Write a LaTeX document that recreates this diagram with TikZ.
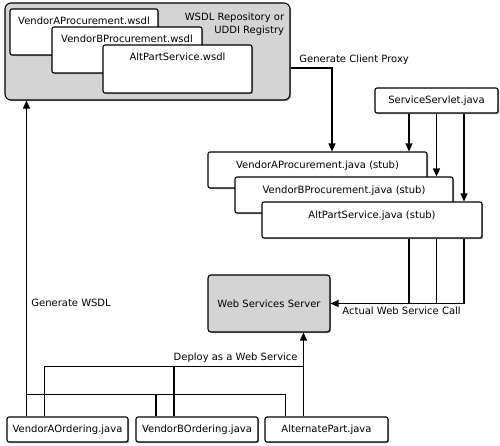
\documentclass[tikz,border=0pt]{standalone}
\usepackage{fontspec}
\setmainfont{DejaVu Sans}
\usetikzlibrary{arrows.meta,shadows}

\tikzset{
  box/.style={draw, fill=white, rounded corners=2pt, inner xsep=2pt,
    drop shadow={shadow xshift=1.2pt, shadow yshift=-1.2pt, opacity=.7}},
  graybox/.style={box, fill=black!17, rounded corners=6pt},
  wsdlbox/.style={box, text height=11pt, inner ysep=4pt},
  stubbox/.style={box, minimum width=219pt, text height=14pt, text depth=18pt, inner ysep=2pt},
  srcbox/.style={box, minimum height=25pt},
  arr/.style={-{Triangle[width=7pt,length=8pt]}},
}

\begin{document}
\begin{tikzpicture}[x=1pt, y=-1pt, line width=1.1pt, font=\fontsize{10}{13}\selectfont]
  \useasboundingbox (0,0) rectangle (500,445);

  % repository with the three wsdl files
  \node[graybox, minimum width=285pt, minimum height=97pt] (repo) at (147.5,51.5) {};
  \node[align=right, anchor=north east] (repolbl) at (288,9) {WSDL Repository or\\UDDI Registry};
  \node[wsdlbox, minimum width=148pt, text depth=27pt] (wsdlA) at (84,32) {VendorAProcurement.wsdl};
  \node[wsdlbox, minimum width=150pt, text depth=27pt] (wsdlB) at (127,50) {VendorBProcurement.wsdl};
  \node[wsdlbox, minimum width=149pt, text depth=29pt] (wsdlC) at (177.5,69) {AltPartService.wsdl};

  % client stubs
  \node[srcbox, minimum width=123pt] (svl) at (436.5,100.5) {ServiceServlet.java};
  \node[stubbox] (stubA) at (317.5,170) {VendorAProcurement.java (stub)};
  \node[stubbox, minimum width=218pt] (stubB) at (344,195) {VendorBProcurement.java (stub)};
  \node[stubbox, minimum width=220pt] (stubC) at (372,220) {AltPartService.java (stub)};

  \node[graybox, rounded corners=3pt, minimum width=122pt, minimum height=57pt] (srv) at (269,303.5) {Web Services Server};

  % sources
  \node[srcbox, minimum width=121pt] (ordA) at (67.5,429.5) {VendorAOrdering.java};
  \node[srcbox, minimum width=122pt] (ordB) at (197,429.5) {VendorBOrdering.java};
  \node[srcbox, minimum width=123pt] (alt) at (326.5,429.5) {AlternatePart.java};

  \draw[arr] ([yshift=-16.5pt]repo.east) -| ([xshift=14.5pt]stubA.north)
    node[pos=0, anchor=south west, xshift=5pt] (lblproxy) {Generate Client Proxy};

  \foreach \s/\dx in {stubA/-27.5, stubB/0, stubC/27.5} {
    \coordinate (c\s) at ([xshift=\dx pt]svl.south);
    \draw[arr] (c\s) -- (c\s |- \s.north);
  }
  \foreach \s in {stubA,stubB}
    \draw (c\s |- stubC.south) -- (c\s |- srv.east);
  \draw[arr] (cstubC |- stubC.south) |- (srv.east)
    node[pos=1, anchor=north west, xshift=8pt] (lblcall) {Actual Web Service Call};

  % generate wsdl
  \draw[arr] ([xshift=-41pt]ordA.north) -- ([xshift=-41pt]ordA.north |- repo.south)
    node[pos=.36, anchor=west, xshift=1pt] (lblwsdl) {Generate WSDL};
  \foreach \n in {ordB,alt}
    \draw ([xshift=-41pt]\n.north) -- ++(0,-22);
  \draw ([xshift=-41pt,yshift=22pt]ordA.north) -- ([xshift=-41pt,yshift=22pt]alt.north);

  % deploy
  \foreach \n in {ordA,ordB}
    \draw ([xshift=-23pt]\n.north) -- ++(0,-50);
  \draw ([xshift=-23pt,yshift=50pt]ordA.north) -- ([xshift=-23pt,yshift=50pt]alt.north)
    node[anchor=south east, xshift=-2pt] (lbldeploy) {Deploy as a Web Service};
  \draw[arr] ([xshift=-23pt]alt.north) -- ([xshift=-23pt]alt.north |- srv.south);
\end{tikzpicture}
\end{document}
